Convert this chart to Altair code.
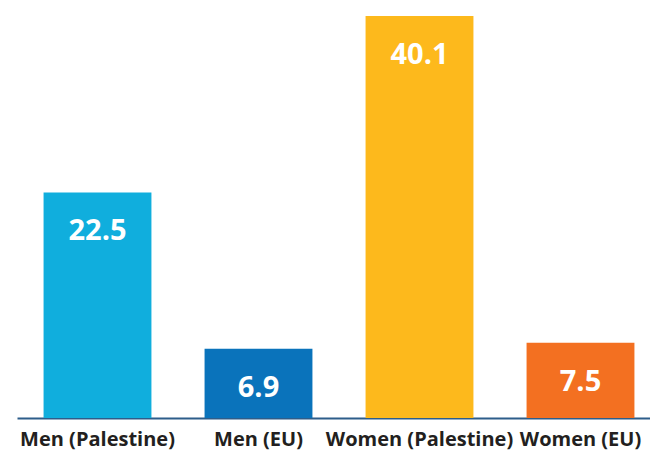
import altair as alt
import pandas as pd

categories = ["Men (Palestine)", "Men (EU)", "Women (Palestine)", "Women (EU)"]
values = [22.5, 6.9, 40.1, 7.5]
colors = ["#10aedd", "#0a73bb", "#fdb91c", "#f37021"]

df = pd.DataFrame({"cat": categories, "val": values, "color": colors})

W = 633
H = 402

xscale = alt.Scale(range=[0, 644], paddingInner=0.33, paddingOuter=0.165)

x = alt.X("cat:N", sort=categories, title=None, scale=xscale,
          axis=alt.Axis(labelAngle=0, ticks=False, domainColor="#2d5d8a", domainWidth=2,
                        labelFont="Open Sans", labelFontWeight="bold", labelFontSize=20,
                        labelColor="#231f20", labelPadding=11, labelLimit=300,
                        labelOverlap=False, grid=False))
y = alt.Y("val:Q", scale=alt.Scale(domain=[0, 40.1], nice=False), axis=None)

bars = alt.Chart(df).mark_bar().encode(
    x=x, y=y, color=alt.Color("color:N", scale=None)
)

labels = alt.Chart(df).mark_text(
    font="Open Sans", fontWeight="bold", fontSize=29, color="white",
    baseline="alphabetic", dy=48
).encode(
    x=alt.X("cat:N", sort=categories, scale=xscale),
    y=y,
    text=alt.Text("val:Q", format=".1f"),
)

chart = alt.layer(bars, labels).properties(
    width=W, height=H,
    autosize=alt.AutoSizeParams(type="none"),
    padding={"left": 9, "top": 8, "right": 0, "bottom": 37},
    view=alt.ViewBackground(strokeWidth=0, stroke="transparent"),
).configure_view(strokeWidth=0, stroke="transparent").configure(background="white")

chart.save("out.html", embed_options={"renderer": "svg", "actions": False})
